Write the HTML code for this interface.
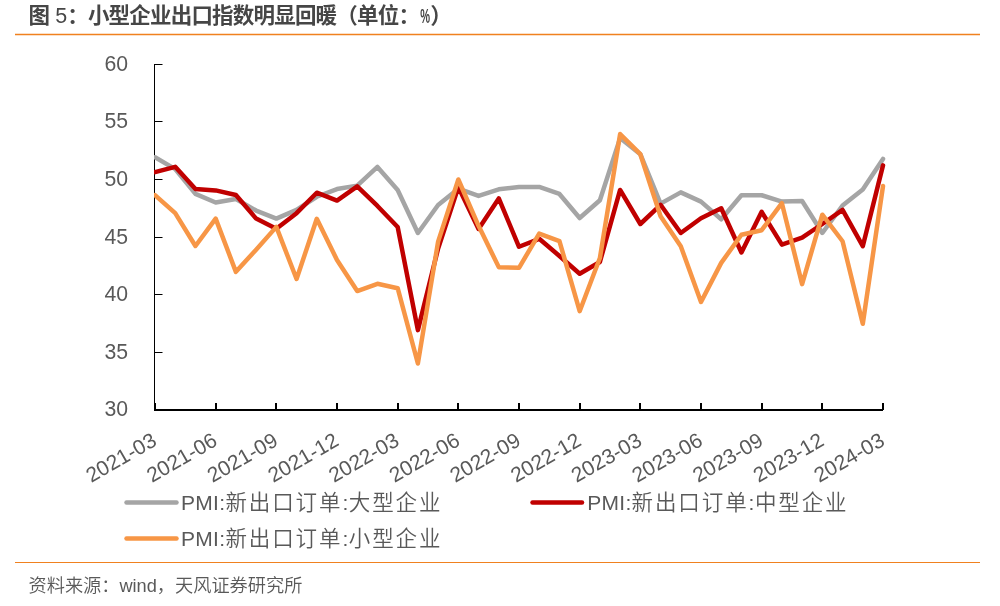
<!DOCTYPE html>
<html lang="zh-CN"><head><meta charset="utf-8"><title>图 5：小型企业出口指数明显回暖</title>
<style>
html,body{margin:0;padding:0;background:#fff;}
body{width:1000px;height:606px;overflow:hidden;position:relative;}
svg{position:absolute;left:0;top:0;display:block;}
svg text{font-family:"Liberation Sans", "Noto Sans CJK SC", sans-serif;}
</style></head><body>
<svg width="1000" height="606" viewBox="0 0 1000 606">
<defs><clipPath id="pc"><rect x="154.1" y="0" width="800" height="500"/></clipPath></defs>
<text x="28.6" y="22.6" font-size="21.5" fill="#464646" font-weight="bold">图</text>
<text x="55.2" y="23.2" font-size="21.5" fill="#464646">5</text>
<text x="67.2" y="22.6" font-size="21.5" letter-spacing="-0.8" fill="#464646" font-weight="bold">：小型企业出口指数明显回暖（单位：</text>
<text x="420.2" y="22.8" font-size="20" font-weight="bold" fill="#464646" textLength="9.8" lengthAdjust="spacingAndGlyphs">%</text>
<text x="430.3" y="23" font-size="22" fill="#464646" font-weight="bold">）</text>
<line x1="15" y1="34.5" x2="980" y2="34.5" stroke="#f0811f" stroke-width="1.4"/>
<line x1="15" y1="562.5" x2="980" y2="562.5" stroke="#f0811f" stroke-width="1.1"/>
<text x="28.5" y="591.5" font-size="18.2" font-weight="350" fill="#595959">资料来源：wind，天风证券研究所</text>
<text x="104.4" y="70.9" font-size="21.8" fill="#595959" textLength="23.6" lengthAdjust="spacingAndGlyphs">60</text>
<line x1="155" y1="64.50" x2="162.5" y2="64.50" stroke="#000" stroke-width="1"/>
<text x="104.4" y="127.9" font-size="21.8" fill="#595959" textLength="23.6" lengthAdjust="spacingAndGlyphs">55</text>
<line x1="155" y1="121.50" x2="162.5" y2="121.50" stroke="#000" stroke-width="1"/>
<text x="104.4" y="185.9" font-size="21.8" fill="#595959" textLength="23.6" lengthAdjust="spacingAndGlyphs">50</text>
<line x1="155" y1="179.50" x2="162.5" y2="179.50" stroke="#000" stroke-width="1"/>
<text x="104.4" y="243.9" font-size="21.8" fill="#595959" textLength="23.6" lengthAdjust="spacingAndGlyphs">45</text>
<line x1="155" y1="237.50" x2="162.5" y2="237.50" stroke="#000" stroke-width="1"/>
<text x="104.4" y="300.9" font-size="21.8" fill="#595959" textLength="23.6" lengthAdjust="spacingAndGlyphs">40</text>
<line x1="155" y1="294.50" x2="162.5" y2="294.50" stroke="#000" stroke-width="1"/>
<text x="104.4" y="358.9" font-size="21.8" fill="#595959" textLength="23.6" lengthAdjust="spacingAndGlyphs">35</text>
<line x1="155" y1="352.50" x2="162.5" y2="352.50" stroke="#000" stroke-width="1"/>
<text x="104.4" y="415.9" font-size="21.8" fill="#595959" textLength="23.6" lengthAdjust="spacingAndGlyphs">30</text>
<line x1="154.5" y1="64" x2="154.5" y2="410" stroke="#000" stroke-width="1"/>
<line x1="154" y1="410" x2="883" y2="410" stroke="#000" stroke-width="2"/>
<line x1="155" y1="403" x2="155" y2="410" stroke="#000" stroke-width="2"/>
<text x="158.00" y="444.5" font-size="21" fill="#595959" text-anchor="end" transform="rotate(-30 158.00 444.5)">2021-03</text>
<line x1="216" y1="403" x2="216" y2="410" stroke="#000" stroke-width="2"/>
<text x="218.67" y="444.5" font-size="21" fill="#595959" text-anchor="end" transform="rotate(-30 218.67 444.5)">2021-06</text>
<line x1="276" y1="403" x2="276" y2="410" stroke="#000" stroke-width="2"/>
<text x="279.33" y="444.5" font-size="21" fill="#595959" text-anchor="end" transform="rotate(-30 279.33 444.5)">2021-09</text>
<line x1="337" y1="403" x2="337" y2="410" stroke="#000" stroke-width="2"/>
<text x="340.00" y="444.5" font-size="21" fill="#595959" text-anchor="end" transform="rotate(-30 340.00 444.5)">2021-12</text>
<line x1="398" y1="403" x2="398" y2="410" stroke="#000" stroke-width="2"/>
<text x="400.67" y="444.5" font-size="21" fill="#595959" text-anchor="end" transform="rotate(-30 400.67 444.5)">2022-03</text>
<line x1="458" y1="403" x2="458" y2="410" stroke="#000" stroke-width="2"/>
<text x="461.33" y="444.5" font-size="21" fill="#595959" text-anchor="end" transform="rotate(-30 461.33 444.5)">2022-06</text>
<line x1="519" y1="403" x2="519" y2="410" stroke="#000" stroke-width="2"/>
<text x="522.00" y="444.5" font-size="21" fill="#595959" text-anchor="end" transform="rotate(-30 522.00 444.5)">2022-09</text>
<line x1="580" y1="403" x2="580" y2="410" stroke="#000" stroke-width="2"/>
<text x="582.67" y="444.5" font-size="21" fill="#595959" text-anchor="end" transform="rotate(-30 582.67 444.5)">2022-12</text>
<line x1="640" y1="403" x2="640" y2="410" stroke="#000" stroke-width="2"/>
<text x="643.33" y="444.5" font-size="21" fill="#595959" text-anchor="end" transform="rotate(-30 643.33 444.5)">2023-03</text>
<line x1="701" y1="403" x2="701" y2="410" stroke="#000" stroke-width="2"/>
<text x="704.00" y="444.5" font-size="21" fill="#595959" text-anchor="end" transform="rotate(-30 704.00 444.5)">2023-06</text>
<line x1="762" y1="403" x2="762" y2="410" stroke="#000" stroke-width="2"/>
<text x="764.67" y="444.5" font-size="21" fill="#595959" text-anchor="end" transform="rotate(-30 764.67 444.5)">2023-09</text>
<line x1="822" y1="403" x2="822" y2="410" stroke="#000" stroke-width="2"/>
<text x="825.33" y="444.5" font-size="21" fill="#595959" text-anchor="end" transform="rotate(-30 825.33 444.5)">2023-12</text>
<line x1="883" y1="403" x2="883" y2="410" stroke="#000" stroke-width="2"/>
<text x="886.00" y="444.5" font-size="21" fill="#595959" text-anchor="end" transform="rotate(-30 886.00 444.5)">2024-03</text>
<polyline clip-path="url(#pc)" points="155.00,157.31 175.22,169.15 195.44,193.88 215.67,202.50 235.89,199.05 256.11,210.55 276.33,218.60 296.56,209.86 316.78,196.75 337.00,189.04 357.22,185.60 377.44,166.96 397.67,189.96 417.89,232.97 438.11,205.03 458.33,188.70 478.56,195.94 498.78,189.28 519.00,186.97 539.22,186.97 559.44,193.99 579.67,218.03 599.89,200.20 620.11,138.10 640.33,154.20 660.56,203.65 680.78,192.38 701.00,201.58 721.22,219.29 741.44,195.25 761.67,195.25 781.89,201.58 802.11,201.00 822.33,232.97 842.56,205.49 862.78,189.39 883.00,158.92" fill="none" stroke="#a5a5a5" stroke-width="4.5" stroke-linejoin="round" stroke-linecap="round"/>
<polyline clip-path="url(#pc)" points="155.00,172.14 175.22,166.85 195.44,189.04 215.67,190.43 235.89,195.03 256.11,218.60 276.33,228.72 296.56,213.19 316.78,192.72 337.00,200.54 357.22,186.40 377.44,205.95 397.67,227.00 417.89,330.15 438.11,248.50 458.33,186.97 478.56,228.95 498.78,198.47 519.00,246.78 539.22,238.84 559.44,255.97 579.67,273.80 599.89,261.96 620.11,189.96 640.33,224.00 660.56,204.80 680.78,232.97 701.00,218.25 721.22,208.25 741.44,252.53 761.67,211.82 781.89,244.59 802.11,237.69 822.33,224.00 842.56,209.97 862.78,246.20 883.00,165.36" fill="none" stroke="#c00000" stroke-width="4.5" stroke-linejoin="round" stroke-linecap="round"/>
<polyline clip-path="url(#pc)" points="155.00,195.14 175.22,213.19 195.44,245.97 215.67,218.60 235.89,271.85 256.11,249.65 276.33,226.88 296.56,278.98 316.78,218.83 337.00,260.00 357.22,291.05 377.44,283.81 397.67,288.18 417.89,363.50 438.11,241.60 458.33,179.50 478.56,225.85 498.78,267.13 519.00,267.82 539.22,233.55 559.44,241.03 579.67,311.18 599.89,258.04 620.11,134.07 640.33,154.20 660.56,216.30 680.78,246.20 701.00,301.97 721.22,262.88 741.44,234.70 761.67,230.21 781.89,203.19 802.11,284.15 822.33,214.69 842.56,241.25 862.78,323.82 883.00,186.06" fill="none" stroke="#f79646" stroke-width="4.5" stroke-linejoin="round" stroke-linecap="round"/>
<line x1="126.5" y1="502.5" x2="176.5" y2="502.5" stroke="#a5a5a5" stroke-width="4.5" stroke-linecap="round"/>
<text x="181.60000000000002" y="509.8" font-size="21.5" letter-spacing="1.9" font-weight="350" fill="#595959"><tspan font-size="21" letter-spacing="0.3" dx="-0.6">PMI:</tspan>新出口订单<tspan font-size="21" letter-spacing="0.5">:</tspan>大型企业</text>
<line x1="532.5" y1="502.5" x2="582" y2="502.5" stroke="#c00000" stroke-width="4.5" stroke-linecap="round"/>
<text x="587.8" y="509.8" font-size="21.5" letter-spacing="1.9" font-weight="350" fill="#595959"><tspan font-size="21" letter-spacing="0.3" dx="-0.6">PMI:</tspan>新出口订单<tspan font-size="21" letter-spacing="0.5">:</tspan>中型企业</text>
<line x1="126.5" y1="538.5" x2="176.5" y2="538.5" stroke="#f79646" stroke-width="4.5" stroke-linecap="round"/>
<text x="181.60000000000002" y="545.8" font-size="21.5" letter-spacing="1.9" font-weight="350" fill="#595959"><tspan font-size="21" letter-spacing="0.3" dx="-0.6">PMI:</tspan>新出口订单<tspan font-size="21" letter-spacing="0.5">:</tspan>小型企业</text>
</svg>
</body></html>
